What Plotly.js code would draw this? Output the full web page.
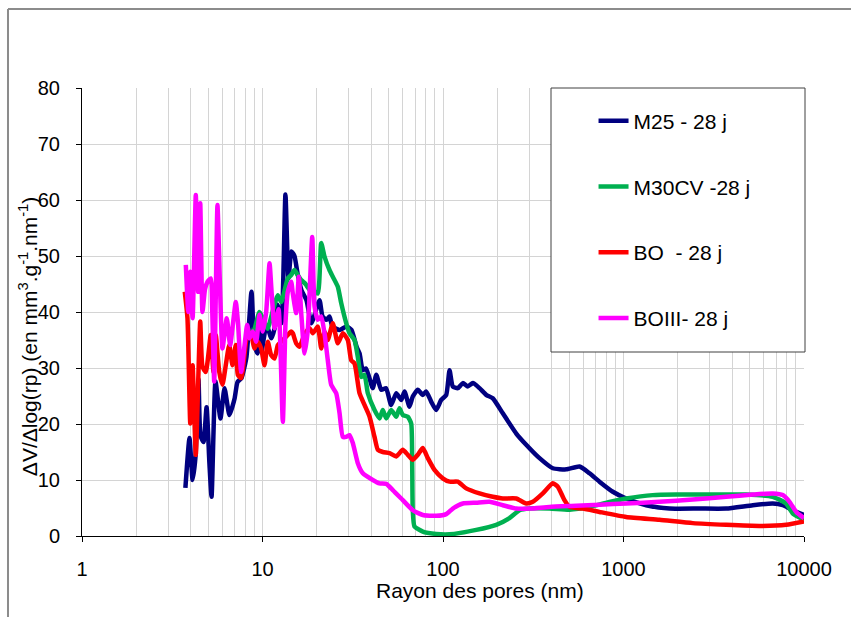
<!DOCTYPE html>
<html>
<head>
<meta charset="utf-8">
<script src="https://cdn.plot.ly/plotly-3.0.1.min.js"></script>
<style>html,body{margin:0;padding:0;background:#fff;}#chart{width:851px;height:617px;}</style>
</head>
<body>
<div id="chart"></div>
<script>
// ---- Data ----
const seriesNames = ["M25 - 28 j", "M30CV -28 j", "BO\u00a0 - 28 j", "BOIII- 28 j"];
const seriesColors = ["#000080", "#00B050", "#FF0000", "#FF00FF"];

const m25_x = [3.74,3.94,4.10,4.25,4.42,4.53,4.71,4.90,5.08,5.22,5.49,5.85,6.16,6.56,7.00,7.27,7.65,8.15,8.69,9.03,9.38,9.62,9.87,10.52,11.2,11.65,12.1,12.74,13.4,13.93,14.47,15.04,15.63,16.44,17.53,18.67,20.7,21.5,22.6,23.5,24.4,26.7,29.2,31.1,33.2,34.5,35.95,37.5,40.8,42.7,45.5,48.4,51.6,55.1,58.7,61.2,65.2,68.0,72.5,77.3,80.7,86.0,91.7,97.7,104.2,108.7,113.3,120.8,128.8,137.2,146.3,159.3,173.5,188.7,214.5,254.6,289,342.6,405.8,481.6,570.4,648,736,872.6,1035,1336,1798,2638,3707,5203,6716,7634,8670,10000];
const m25_y = [8.6,17.5,10,14,28,18,16.8,23,13,7,27.6,21,26.4,21.6,24.5,27.5,28.2,32,43.6,34,32.6,39.2,32.9,37.7,35.3,37,41.3,38,61,46,50.8,50,46.9,43.9,42.1,38,42.1,39.2,38.6,39.2,37.4,36.8,37.4,36.8,33.8,32.6,29.6,29.9,26.4,28.8,26.1,26.4,23.4,25.5,24.3,25.8,23.1,24.9,26.1,25.2,25.8,24,22.5,24.3,25.2,29.6,26.7,26.4,27.3,26.7,27.3,26.4,25.2,24.6,21.9,18.3,16.3,13.9,12.1,11.9,12.4,11.2,9.7,7.9,6.7,5.5,4.9,4.9,4.9,5.5,5.8,5.5,4.6,3.75];

const m30_x = [8.47,9.03,9.62,10.04,10.66,11.36,12.16,12.70,13.81,14.42,15.04,15.69,16.39,17.31,18.21,19.0,20.25,21.15,22.06,23.5,24.52,26.14,27.29,29.09,30.34,32.35,33.73,35.23,36.74,38.32,41.74,44.48,46.40,48.45,51.64,55.04,57.41,59.88,63.83,66.65,67.5,68.0,69.5,77.3,91.7,108.7,152.8,197.2,233.6,265.4,301.4,389,502,648,836,1035,1452,1960,2994,4783,6716,7965,8670,10000];
const m30_y = [36,37,40,38.9,37,40,43,41.8,46,46.6,47.5,46.6,45.7,45,44,43.9,43.3,52.3,49.9,47.5,46.3,44.5,41.6,38,36.2,35,32,28.4,28.8,25.5,22.5,21,22.5,21,22.5,21.3,22.8,21.6,21.3,20.1,13,4.6,1.7,0.8,0.36,0.3,1.1,2,3.2,4.6,4.9,4.9,4.7,5.2,6.1,6.7,7.3,7.4,7.4,7.4,7.0,5.8,4.0,2.9];

const bo_x = [3.71,3.84,3.98,4.10,4.27,4.52,4.65,4.85,5.17,5.35,5.51,5.76,6.00,6.26,6.54,6.82,7.11,7.30,7.62,8.29,8.66,9.03,9.42,9.83,10.26,10.70,11.17,11.66,12.16,12.70,13.24,13.81,14.42,14.72,15.37,16.03,17.09,18.21,19.0,20.25,21.15,22.06,23.0,24.52,26.14,27.86,29.7,31.0,32.35,34.47,36.74,39.2,41.74,43.54,46.4,50.53,55.04,59.88,63.83,68.0,72.5,77.3,82.4,89.7,99.7,108.7,120.8,134.4,159.3,188.7,214.5,254.6,289,314.6,357.3,405.8,432.5,471,502,595,736,1035,1582,2421,3707,5667,7965,10000];
const bo_y = [43.6,38.9,20.1,30.5,14.5,38.3,30.2,29.3,35.9,29.3,35.9,29.3,27,30.5,34.1,30.5,34.1,28.8,28.2,36.5,35.9,33.5,34.7,33.5,30.5,34.7,32.3,31.7,34.1,34.7,35.3,35.9,36.5,36.2,34.4,33.8,36,37.1,36.2,37.4,33.5,36.5,35,38,34.4,36.2,35,31.4,30.8,25.5,23.4,21.3,17.7,15.4,15,14.8,14.2,15.4,14.5,13.6,14.5,15.7,13.9,11.8,10.3,9.7,9.7,8.5,7.6,7,6.7,6.7,5.8,6.1,7.6,9.4,8.8,6.4,5.2,4.9,4.3,3.4,2.9,2.3,2.0,1.8,2.0,2.6];

const boiii_x = [3.76,3.88,3.98,4.10,4.27,4.40,4.52,4.65,4.80,4.96,5.17,5.27,5.40,5.63,5.81,6.00,6.34,6.62,7.11,7.32,7.62,8.23,8.47,8.84,9.23,9.62,10.04,10.48,10.94,11.26,11.66,12.27,12.96,13.41,13.81,14.42,14.72,15.37,15.89,16.39,17.09,17.82,18.86,19.42,20.25,21.15,22.06,23.0,24.02,25.61,26.71,27.86,29.09,30.34,31.65,33.73,35.96,40.83,44.48,48.45,52.7,59.88,68.0,77.3,91.7,104.2,113.3,128.8,152.8,180.9,214.5,254.6,301.4,389,547,736,1035,1582,2421,3707,5203,6716,7634,8313,9057,10000];
const boiii_y = [48.4,40,47.2,38.9,60.9,43.6,59.4,40,44,45.4,46,40,27.6,59.1,45,33.5,38.9,34.1,41.8,38,29.3,37.7,35.3,36.5,34.7,39.5,36.5,40,48.7,43,37.1,40.5,20.4,38,43.6,45.4,43.3,39.8,46.3,39.8,32.6,36.8,53.4,41,38.6,39.2,36.2,31.4,27,25.5,22,17.7,17.7,18,16.6,13,11.2,10,9.4,9.3,8.2,6.4,4.6,3.75,3.6,3.9,4.9,5.8,5.95,6.1,5.5,4.9,4.9,5.2,5.4,5.6,5.8,6.1,6.5,7.0,7.4,7.6,7.3,6.1,4.3,3.2];

const xTickVals = [1, 10, 100, 1000, 10000];
const xTickText = ["1", "10", "100", "1000", "10000"];
const yTickVals = [0, 10, 20, 30, 40, 50, 60, 70, 80];
const xTitle = "Rayon des pores (nm)";
const yTitle = "\u0394V/\u0394log(rp) (en mm<sup>3</sup>.g<sup>-1</sup>.nm<sup>-1</sup>)";

const xs = [m25_x, m30_x, bo_x, boiii_x];
const ys = [m25_y, m30_y, bo_y, boiii_y];

const FONT = "Liberation Sans, Arial, Helvetica, sans-serif";

const traces = seriesNames.map((name, i) => ({
  type: "scatter",
  mode: "lines",
  name: name,
  legendgroup: "g" + i,
  x: xs[i],
  y: ys[i],
  line: {color: seriesColors[i], width: 4.5, shape: "spline", smoothing: 0.5}
}));

const layout = {
  width: 851,
  height: 617,
  margin: {l: 82, r: 47, t: 88, b: 81, pad: 0},
  paper_bgcolor: "#ffffff",
  plot_bgcolor: "#ffffff",
  font: {family: FONT, size: 20, color: "#000000"},
  showlegend: true,
  legend: {
    x: 0.7085, y: 0.972, xanchor: "left", yanchor: "top",
    bgcolor: "rgba(0,0,0,0)", borderwidth: 0,
    font: {family: FONT, size: 21, color: "#000"},
    tracegroupgap: 35.5, itemwidth: 30
  },
  xaxis: {
    type: "log",
    range: [0, 4],
    tickmode: "array",
    tickvals: xTickVals,
    ticktext: xTickText,
    showgrid: true,
    gridcolor: "#d4d4d4",
    gridwidth: 1,
    showline: true,
    linecolor: "#000000",
    linewidth: 1,
    ticks: "outside",
    ticklen: 5,
    tickcolor: "#000000",
    ticklabelstandoff: 10,
    zeroline: false,
    minor: {dtick: "D1", showgrid: true, gridcolor: "#d4d4d4", gridwidth: 1, ticks: ""},
    tickfont: {family: FONT, size: 20}
  },
  yaxis: {
    range: [0, 80],
    tickmode: "array",
    tickvals: yTickVals,
    showgrid: true,
    gridcolor: "#d4d4d4",
    gridwidth: 1,
    showline: true,
    linecolor: "#000000",
    linewidth: 1,
    ticks: "outside",
    ticklen: 5,
    tickcolor: "#000000",
    ticklabelstandoff: 12,
    zeroline: false,
    tickfont: {family: FONT, size: 20}
  },
  annotations: [
    {text: xTitle, xref: "paper", yref: "paper", x: 0.551, y: -0.122,
     xanchor: "center", yanchor: "middle", showarrow: false,
     font: {family: FONT, size: 21, color: "#000"}},
    {text: yTitle, xref: "paper", yref: "paper", x: -0.0755, y: 0.445,
     xanchor: "center", yanchor: "middle", textangle: -90, showarrow: false,
     font: {family: FONT, size: 21, color: "#000"}}
  ],
  shapes: [
    {type: "rect", xref: "paper", yref: "paper", x0: 0.6496, x1: 1.0014, y0: 0.4107, y1: 1.0,
     fillcolor: "#ffffff", line: {color: "#404040", width: 1}, layer: "above"},
    {type: "line", xref: "paper", yref: "paper", x0: -0.1025, x1: 1.07, y0: 1.1763, y1: 1.1763,
     line: {color: "#8c8c8c", width: 2}},
    {type: "line", xref: "paper", yref: "paper", x0: -0.1025, x1: -0.1025, y0: -0.2, y1: 1.1763,
     line: {color: "#8c8c8c", width: 2}}
  ]
};

Plotly.newPlot("chart", traces, layout, {displayModeBar: false, staticPlot: true});
</script>
</body>
</html>
